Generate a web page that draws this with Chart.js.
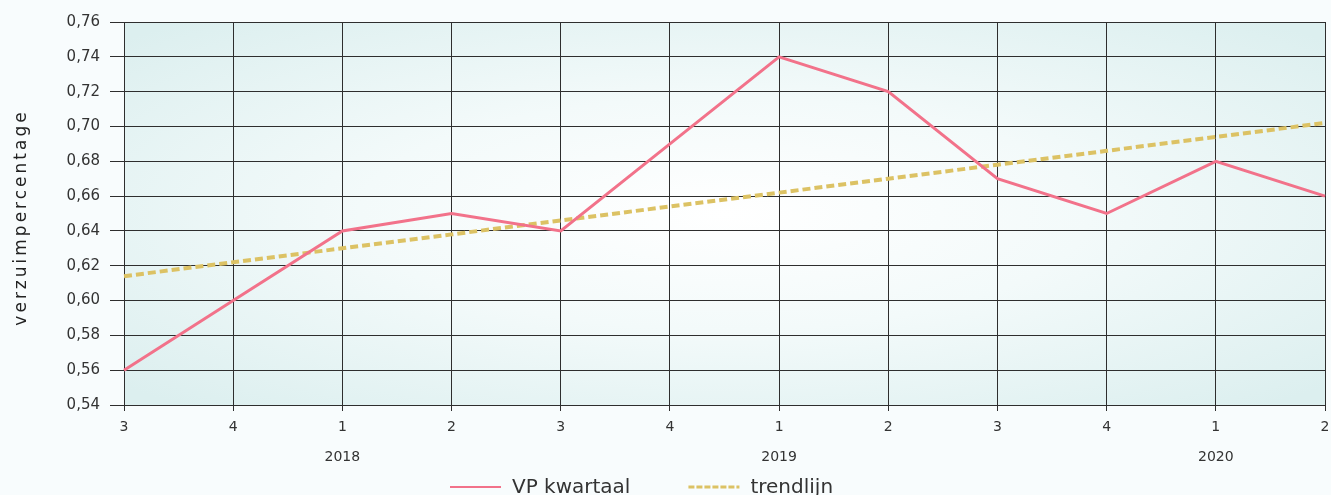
<!DOCTYPE html>
<html>
<head>
<meta charset="utf-8">
<script src="https://cdn.jsdelivr.net/npm/chart.js@4"></script>
<style>
  html, body { margin: 0; padding: 0; background: #f8fcfd; }
  #wrap { width: 1331px; height: 495px; }
</style>
</head>
<body>
<div id="wrap"><canvas id="chart" width="1331" height="495"></canvas></div>
<script>
// kwartalen en jaren op de x-as
const quarters = ['3', '4', '1', '2', '3', '4', '1', '2', '3', '4', '1', '2'];
const years = ['', '', '2018', '', '', '', '2019', '', '', '', '2020', ''];

// verzuimpercentage per kwartaal
const vpKwartaal = [0.56, 0.60, 0.64, 0.65, 0.64, 0.69, 0.74, 0.72, 0.67, 0.65, 0.68, 0.66];
const trendlijn = [0.614, 0.622, 0.630, 0.638, 0.646, 0.654, 0.662, 0.670, 0.678, 0.686, 0.694, 0.702];

const yMin = 0.54;
const yMax = 0.76;
const yStep = 0.02;

const fontFamily = '"DejaVu Sans", sans-serif';

// achtergrond van het plotvlak: wit in het midden, lichtblauw aan de randen
const plotBackground = {
  id: 'plotBackground',
  beforeDraw(chart) {
    const { ctx, chartArea: a } = chart;
    const cx = (a.left + a.right) / 2;
    const cy = (a.top + a.bottom) / 2;
    const rx = (a.right - a.left) / 2;
    const ry = (a.bottom - a.top) / 2;
    ctx.save();
    ctx.beginPath();
    ctx.rect(a.left, a.top, a.right - a.left, a.bottom - a.top);
    ctx.clip();
    ctx.translate(cx, cy);
    ctx.scale(rx / ry, 1);
    const g = ctx.createRadialGradient(0, 0, 0, 0, 0, ry * 1.35);
    g.addColorStop(0, '#ffffff');
    g.addColorStop(0.45, '#f3fafa');
    g.addColorStop(1, '#dcefef');
    ctx.fillStyle = g;
    ctx.fillRect(-ry * 1.5, -ry * 1.5, ry * 3, ry * 3);
    ctx.restore();
  }
};

// jaartallen, titel van de y-as en de legenda onderaan
const extraText = {
  id: 'extraText',
  afterDraw(chart) {
    const { ctx, chartArea: a } = chart;
    const x = chart.scales.x;
    ctx.save();
    ctx.fillStyle = '#333';
    ctx.font = '14px ' + fontFamily;
    ctx.textAlign = 'center';
    ctx.textBaseline = 'middle';
    years.forEach((y, i) => {
      if (y) ctx.fillText(y, x.getPixelForValue(i), a.bottom + 52);
    });
    ctx.restore();

    ctx.save();
    ctx.translate(22, (a.top + a.bottom) / 2 + 4);
    ctx.rotate(-Math.PI / 2);
    ctx.font = '17px ' + fontFamily;
    ctx.letterSpacing = '3px';
    ctx.textAlign = 'center';
    ctx.textBaseline = 'middle';
    ctx.fillStyle = '#222';
    ctx.fillText('verzuimpercentage', 0, 0);
    ctx.restore();

    // legenda
    ctx.save();
    ctx.font = '20px ' + fontFamily;
    ctx.textBaseline = 'alphabetic';
    ctx.textAlign = 'left';
    let lx = 450;
    const ly = 487;
    chart.data.datasets.forEach(ds => {
      ctx.beginPath();
      ctx.strokeStyle = ds.borderColor;
      ctx.lineWidth = ds.borderDash ? 3 : 2;
      ctx.setLineDash(ds.borderDash ? [6, 2] : []);
      ctx.moveTo(lx, ly);
      ctx.lineTo(lx + 51, ly);
      ctx.stroke();
      ctx.setLineDash([]);
      ctx.fillStyle = '#333';
      ctx.fillText(ds.label, lx + 62, ly + 6);
      lx += 62 + ctx.measureText(ds.label).width + 58;
    });
    ctx.restore();
  }
};

new Chart(document.getElementById('chart'), {
  type: 'line',
  data: {
    labels: quarters,
    datasets: [
      {
        label: 'VP kwartaal',
        data: vpKwartaal,
        borderColor: '#f2728a',
        backgroundColor: '#f2728a',
        borderWidth: 3,
        pointRadius: 0,
        tension: 0
      },
      {
        label: 'trendlijn',
        data: trendlijn,
        borderColor: '#dcc264',
        backgroundColor: '#dcc264',
        borderWidth: 4,
        borderDash: [8, 4],
        pointRadius: 0,
        tension: 0
      }
    ]
  },
  options: {
    responsive: false,
    animation: false,
    devicePixelRatio: 1,
    layout: { padding: { top: 22, right: 0, left: 0, bottom: 32 } },
    scales: {
      x: {
        offset: false,
        grid: { color: '#2e2e2e', lineWidth: 1, tickLength: 6, tickColor: '#2e2e2e' },
        border: { color: '#2e2e2e' },
        ticks: {
          color: '#333',
          font: { family: fontFamily, size: 14 },
          padding: 8,
          maxRotation: 0,
          autoSkip: false
        },
        afterFit(scale) {
          scale.height = 58;
          scale.paddingLeft = 0;
          scale.paddingRight = 6;
        }
      },
      y: {
        min: yMin,
        max: yMax,
        grid: { color: '#2e2e2e', lineWidth: 1, tickLength: 14, tickColor: '#2e2e2e' },
        border: { color: '#2e2e2e' },
        ticks: {
          stepSize: yStep,
          color: '#333',
          padding: 10,
          font: { family: fontFamily, size: 15 },
          callback: v => v.toFixed(2).replace('.', ',')
        },
        afterFit(scale) { scale.width = 124; }
      }
    },
    plugins: {
      legend: { display: false },
      tooltip: { enabled: false }
    }
  },
  plugins: [plotBackground, extraText]
});
</script>
</body>
</html>
